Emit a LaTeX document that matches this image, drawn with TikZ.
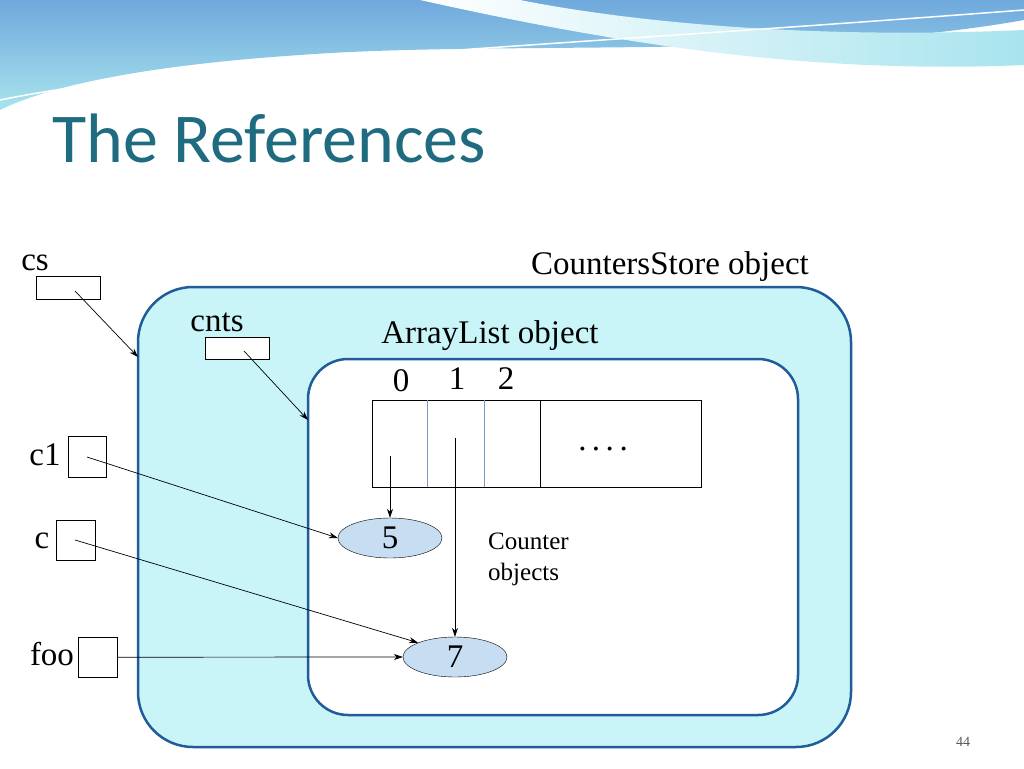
\documentclass[tikz,border=0pt]{standalone}
\usepackage{fontspec}
\setmainfont{Liberation Serif}
\newfontfamily\titlefont{Carlito}
\usetikzlibrary{arrows.meta,shapes.geometric}
\definecolor{frame}{HTML}{1F5C99}
\definecolor{cyanfill}{HTML}{C9F5F8}
\definecolor{ellfill}{HTML}{C6DDF2}
\definecolor{titlec}{HTML}{1F6B80}
\definecolor{wave1}{HTML}{6FA8DC}
\definecolor{wave2}{HTML}{A8E4EE}
\begin{document}
\begin{tikzpicture}[x=1pt,y=-1pt,
  ptr/.style={draw,thin,fill=white,minimum width=#1,inner sep=0},
  lbl/.style={font=\fontsize{33}{36}\selectfont,inner sep=0,anchor=base},
  arr/.style={-{Stealth[length=9pt,width=6pt]},line width=0.7pt},
  obj/.style={draw,ellipse,fill=ellfill,minimum width=104,minimum height=40,font=\fontsize{33}{36}\selectfont,inner sep=0}]
\useasboundingbox (0,0) rectangle (1024,768);
\fill[white] (0,0) rectangle (1024,768);
% top decoration
\shade[top color=wave1,bottom color=wave2] (0,0) -- (1024,0) -- (1024,20) .. controls (800,60) and (500,40) .. (300,55) .. controls (150,65) and (50,85) .. (0,110) -- cycle;
\shade[left color=white,right color=wave2] (420,0) .. controls (600,40) and (800,75) .. (1024,65) -- (1024,30) .. controls (800,40) and (620,20) .. (520,0) -- cycle;
\draw[white,line width=1.5pt] (0,100) .. controls (200,60) and (500,50) .. (1024,10);
% title
\node[anchor=base west,inner sep=0,text=titlec,font=\titlefont\fontsize{70}{78}\selectfont] (title) at (52,162) {The References};
% containers
\draw[frame,line width=2.5pt,fill=cyanfill,rounded corners=55] (138,287) rectangle (851,747);
\draw[frame,line width=2.5pt,fill=white,rounded corners=40] (308,359) rectangle (798,715);
\coordinate (outer) at (138,357);
\coordinate (inner) at (308,420);
\node[lbl] (cslbl) at (670,274) {CountersStore object};
\node[lbl] (allbl) at (490,343) {ArrayList object};
\node[lbl] (i0) at (401,391) {0};
\node[lbl] (i1) at (457,389) {1};
\node[lbl] (i2) at (506,389) {2};
% array
\draw[thin] (372,400) rectangle (701,487);
\draw[frame!60,thin] (427,400) -- (427,487) (484,400) -- (484,487);
\draw[thin] (540,400) -- (540,487);
\node[lbl] (dots) at (603,450) {.\,.\,.\,.};
\coordinate (a0) at (390,456);
\coordinate (a1) at (455,438);
% pointer variables
\node[lbl] (cst) at (35,270) {cs};
\node[ptr=64,minimum height=23,anchor=north west] (csb) at (36,276) {};
\node[lbl] (cntst) at (217,331) {cnts};
\node[ptr=64,minimum height=22,anchor=north west] (cntsb) at (205,337) {};
\node[lbl] (c1t) at (45,465) {c1};
\node[ptr=38,minimum height=41,anchor=north west] (c1b) at (68,436) {};
\node[lbl] (ct) at (42,548) {c};
\node[ptr=39,minimum height=40,anchor=north west] (cb) at (56,520) {};
\node[lbl] (foot) at (52,665) {foo};
\node[ptr=39,minimum height=40,anchor=north west] (foob) at (78,637) {};
\coordinate (csp) at (75,291);
\coordinate (cntsp) at (244,351);
\coordinate (c1p) at (87,457);
\coordinate (cp) at (75,540);
% objects
\node[obj] (five) at (390,538) {5};
\node[obj] (seven) at (455,657) {7};
\node[anchor=north west,inner sep=0,align=left,font=\fontsize{25}{31}\selectfont] (cobj) at (488,533) {Counter\\objects};
\node[font=\fontsize{14}{16}\selectfont,text=gray!70!black] (page) at (963,742) {44};
% arrows
\draw[arr] (csp) -- (outer);
\draw[arr] (cntsp) -- (inner);
\draw[arr] (c1p) -- (five.west);
\draw[arr] (cp) -- (seven.north west);
\draw[arr] (foob.east) -- (seven.west);
\draw[arr] (a0) -- (five.north -| a0);
\draw[arr] (a1) -- (seven.north -| a1);
\end{tikzpicture}
\end{document}
